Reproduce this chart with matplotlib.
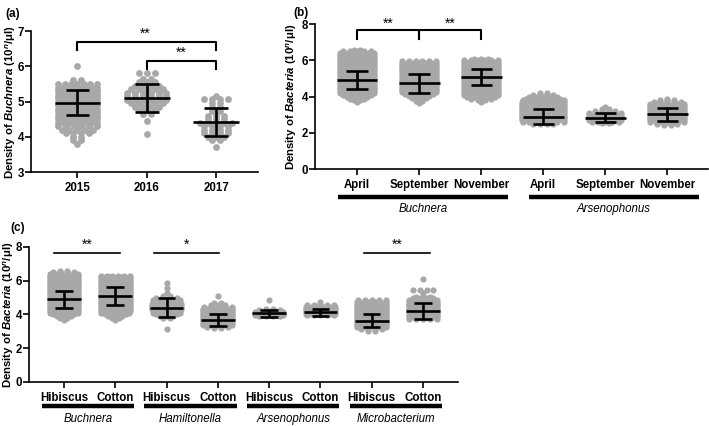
import numpy as np
import matplotlib.pyplot as plt
from matplotlib import transforms

plt.rcParams['font.family'] = ['Liberation Sans', 'DejaVu Sans']
plt.rcParams['mathtext.fontset'] = 'custom'
plt.rcParams['mathtext.rm'] = 'Liberation Sans:bold'
plt.rcParams['mathtext.it'] = 'Liberation Sans:italic:bold'
plt.rcParams['mathtext.bf'] = 'Liberation Sans:bold'

GRAY = '#a8a8a8'

# ---- panel (a): Buchnera by year, (value, number of dots) ----
a_cats = ["2015", "2016", "2017"]
a_2015 = [(6.0, 1), (5.6, 2), (5.5, 7), (5.4, 9), (5.3, 10), (5.2, 11), (5.1, 12), (5.0, 12),
          (4.9, 12), (4.8, 12), (4.7, 11), (4.6, 10), (4.5, 9), (4.4, 8), (4.3, 6), (4.2, 5),
          (4.1, 4), (4.0, 2), (3.9, 2), (3.8, 1)]
a_2016 = [(5.8, 3), (5.65, 2), (5.55, 3), (5.45, 4), (5.35, 5), (5.25, 6), (5.15, 6), (5.05, 6),
          (4.95, 5), (4.85, 4), (4.75, 3), (4.65, 2), (4.45, 1), (4.08, 1)]
a_2017 = [(5.15, 1), (5.07, 4), (4.95, 2), (4.85, 2), (4.72, 2), (4.6, 3), (4.5, 3), (4.4, 5),
          (4.3, 4), (4.2, 4), (4.1, 4), (4.0, 3), (3.9, 2), (3.7, 1)]
a_mean = [4.97, 5.10, 4.42]
a_sd = [0.36, 0.39, 0.40]

# ---- panel (b): month x bacteria ----
b_cats = ["April", "September", "November", "April", "September", "November"]
b_groups = ["Buchnera", "Arsenophonus"]
b_buch_apr = [(6.6, 2), (6.5, 5), (6.4, 7), (6.3, 8), (6.2, 8), (6.1, 8), (6.0, 9), (5.9, 9),
              (5.8, 9), (5.7, 9), (5.6, 9), (5.5, 9), (5.4, 9), (5.3, 9), (5.2, 9), (5.1, 9),
              (5.0, 9), (4.9, 9), (4.8, 9), (4.7, 9), (4.6, 9), (4.5, 8), (4.4, 8), (4.3, 7),
              (4.2, 6), (4.1, 5), (4.0, 4), (3.9, 3), (3.8, 2), (3.7, 1)]
b_buch_sep = [(5.95, 6), (5.85, 7), (5.75, 8), (5.65, 8), (5.55, 8), (5.45, 8), (5.35, 8),
              (5.25, 8), (5.15, 8), (5.05, 8), (4.95, 8), (4.85, 8), (4.75, 8), (4.65, 8),
              (4.55, 8), (4.45, 8), (4.35, 7), (4.25, 6), (4.15, 5), (4.05, 4), (3.95, 3),
              (3.85, 2), (3.75, 2), (3.65, 1)]
b_buch_nov = [(6.1, 3), (6.0, 6), (5.9, 8), (5.8, 8), (5.7, 8), (5.6, 8), (5.5, 8), (5.4, 8),
              (5.3, 8), (5.2, 8), (5.1, 8), (5.0, 8), (4.9, 8), (4.8, 8), (4.7, 8), (4.6, 8),
              (4.5, 8), (4.4, 8), (4.3, 8), (4.2, 7), (4.1, 6), (4.0, 5), (3.9, 4), (3.8, 2),
              (3.7, 1)]
b_ars_apr = [(4.2, 2), (4.1, 4), (4.0, 5), (3.9, 6), (3.8, 7), (3.7, 8), (3.6, 9), (3.5, 9),
             (3.4, 9), (3.3, 9), (3.2, 9), (3.1, 9), (3.0, 9), (2.9, 9), (2.8, 9), (2.7, 8),
             (2.6, 7), (2.5, 4)]
b_ars_sep = [(3.45, 1), (3.3, 2), (3.2, 4), (3.1, 6), (3.0, 7), (2.9, 8), (2.8, 8), (2.7, 7),
             (2.6, 5), (2.55, 2)]
b_ars_nov = [(3.9, 1), (3.8, 3), (3.7, 5), (3.6, 7), (3.5, 8), (3.4, 8), (3.3, 8), (3.2, 8),
             (3.1, 8), (3.0, 8), (2.9, 8), (2.8, 8), (2.7, 8), (2.6, 7), (2.5, 4), (2.45, 2)]
b_mean = [4.90, 4.73, 5.08, 2.90, 2.84, 3.02]
b_sd = [0.50, 0.55, 0.44, 0.43, 0.25, 0.35]

# ---- panel (c): host plant x bacteria ----
c_cats = ["Hibiscus", "Cotton"] * 4
c_groups = ["Buchnera", "Hamiltonella", "Arsenophonus", "Microbacterium"]
c_buch_hib = [(6.6, 2), (6.5, 4), (6.4, 6), (6.3, 7), (6.2, 8), (6.1, 8), (6.0, 8), (5.9, 8),
              (5.8, 8), (5.7, 8), (5.6, 8), (5.5, 8), (5.4, 8), (5.3, 8), (5.2, 8), (5.1, 8),
              (5.0, 8), (4.9, 8), (4.8, 8), (4.7, 8), (4.6, 8), (4.5, 8), (4.4, 8), (4.3, 7),
              (4.2, 6), (4.1, 5), (4.0, 4), (3.9, 3), (3.8, 2), (3.7, 1)]
c_buch_cot = [(6.3, 6), (6.2, 8), (6.1, 8), (6.0, 8), (5.9, 8), (5.8, 8), (5.7, 8), (5.6, 8),
              (5.5, 8), (5.4, 8), (5.3, 8), (5.2, 8), (5.1, 8), (5.0, 8), (4.9, 8), (4.8, 8),
              (4.7, 8), (4.6, 8), (4.5, 8), (4.4, 8), (4.3, 7), (4.2, 6), (4.1, 5), (4.0, 4),
              (3.9, 3), (3.8, 2), (3.7, 1)]
c_ham_hib = [(5.84, 1), (5.55, 1), (5.25, 1), (5.1, 2), (4.95, 4), (4.85, 5), (4.75, 5), (4.6, 6),
             (4.5, 6), (4.4, 6), (4.3, 6), (4.2, 5), (4.1, 5), (4.0, 4), (3.9, 3), (3.8, 2),
             (3.13, 1)]
c_ham_cot = [(5.11, 1), (4.7, 2), (4.56, 3), (4.45, 5), (4.35, 7), (4.25, 8), (4.15, 8), (4.05, 8),
             (3.95, 8), (3.85, 8), (3.75, 8), (3.65, 8), (3.55, 8), (3.45, 7), (3.35, 6),
             (3.25, 4), (3.18, 2)]
c_ars_hib = [(4.85, 1), (4.35, 2), (4.25, 4), (4.15, 6), (4.05, 8), (3.95, 7), (3.88, 4)]
c_ars_cot = [(4.75, 1), (4.55, 5), (4.45, 6), (4.35, 7), (4.25, 8), (4.15, 8), (4.05, 7), (3.95, 5)]
c_mic_hib = [(4.86, 5), (4.75, 6), (4.65, 7), (4.55, 8), (4.45, 8), (4.35, 8), (4.25, 8), (4.15, 8),
             (4.05, 8), (3.95, 8), (3.85, 8), (3.75, 8), (3.65, 8), (3.55, 8), (3.45, 8), (3.35, 7),
             (3.25, 6), (3.15, 4), (3.05, 2)]
c_mic_cot = [(6.08, 1), (5.45, 4), (5.3, 1), (5.05, 3), (4.95, 4), (4.85, 5), (4.75, 6), (4.65, 7),
             (4.55, 8), (4.45, 8), (4.35, 8), (4.25, 8), (4.15, 8), (4.05, 8), (3.95, 8), (3.85, 7),
             (3.75, 5)]
c_mean = [4.91, 5.10, 4.40, 3.68, 4.06, 4.12, 3.63, 4.19]
c_sd = [0.51, 0.54, 0.56, 0.35, 0.21, 0.19, 0.40, 0.47]


def swarm(ax, x0, rows, step, halfw, s):
    xs, ys = [], []
    for v, n in rows:
        st = step if n < 2 else min(step, 2 * halfw / (n - 1))
        off = (np.arange(n) - (n - 1) / 2) * st
        xs += list(x0 + off)
        ys += [v] * n
    ax.scatter(xs, ys, s=s, color=GRAY, linewidths=0, zorder=2, clip_on=False)


def meansd(ax, x0, m, sd, mw=0.66, cw=0.34):
    kw = dict(color='black', lw=1.9, zorder=3, solid_capstyle='butt')
    ax.plot([x0 - mw / 2, x0 + mw / 2], [m, m], **kw)
    ax.plot([x0, x0], [m - sd, m + sd], **kw)
    ax.plot([x0 - cw / 2, x0 + cw / 2], [m + sd, m + sd], **kw)
    ax.plot([x0 - cw / 2, x0 + cw / 2], [m - sd, m - sd], **kw)


def style(ax, ylim, yticks, xlim, cats, ylabel, labx):
    for sp in ['top', 'right']:
        ax.spines[sp].set_visible(False)
    for sp in ['left', 'bottom']:
        ax.spines[sp].set_linewidth(1.2)
    ax.set_ylim(*ylim)
    ax.set_yticks(yticks)
    ax.set_xlim(*xlim)
    ax.set_xticks(range(len(cats)))
    ax.set_xticklabels(cats, fontweight='bold', fontsize=8.3)
    ax.tick_params(axis='y', labelsize=8.3, width=1.2, length=4, pad=1)
    ax.tick_params(axis='x', width=1.2, length=4, pad=3)
    for t in ax.get_yticklabels():
        t.set_fontweight('bold')
    ax.set_ylabel(ylabel, fontsize=8.2, fontweight='bold', va='center')
    ax.yaxis.set_label_coords(labx, 0.5)


def group_bars(ax, groups, spans, ybar, ylab):
    tr = transforms.blended_transform_factory(ax.transData, ax.transAxes)
    for g, (x1, x2) in zip(groups, spans):
        ax.plot([x1, x2], [ybar, ybar], color='black', lw=3.2, transform=tr,
                clip_on=False, solid_capstyle='butt')
        ax.text((x1 + x2) / 2, ylab, g, style='italic', fontsize=8.3, ha='center',
                va='center', transform=tr)


fig = plt.figure(figsize=(7.09, 4.26), dpi=100)

# panel (a)
ax1 = fig.add_axes([0.0437, 0.596, 0.320, 0.331])
for i, rows in enumerate([a_2015, a_2016, a_2017]):
    swarm(ax1, i, rows, 0.115, 0.28, 24)
    meansd(ax1, i, a_mean[i], a_sd[i])
style(ax1, (3, 7), [3, 4, 5, 6, 7], (-0.67, 2.6), a_cats,
      r"Density of $\mathit{Buchnera}$ (10$^{n}$/μl)", -0.088)
bk = dict(color='black', lw=1.5, clip_on=False)
ax1.plot([0, 0, 2, 2], [6.45, 6.69, 6.69, 6.45], **bk)
ax1.plot([1, 1, 2, 2], [5.92, 6.15, 6.15, 5.92], **bk)
ax1.text(0.97, 6.72, "**", ha='center', va='bottom', fontsize=10)
ax1.text(1.5, 6.18, "**", ha='center', va='bottom', fontsize=10)

# panel (b)
ax2 = fig.add_axes([0.444, 0.603, 0.554, 0.340])
b_rows = [b_buch_apr, b_buch_sep, b_buch_nov, b_ars_apr, b_ars_sep, b_ars_nov]
b_halfw = [0.28, 0.28, 0.28, 0.34, 0.26, 0.27]
for i, rows in enumerate(b_rows):
    swarm(ax2, i, rows, 0.11, b_halfw[i], 20)
    meansd(ax2, i, b_mean[i], b_sd[i])
style(ax2, (0, 8), [0, 2, 4, 6, 8], (-0.68, 5.65), b_cats,
      r"Density of $\mathit{Bacteria}$ (10$^{n}$/μl)", -0.058)
ax2.plot([0, 0, 1, 1], [7.2, 7.67, 7.67, 7.2], **bk)
ax2.plot([1, 1, 2, 2], [7.2, 7.67, 7.67, 7.2], **bk)
ax2.text(0.5, 7.62, "**", ha='center', va='bottom', fontsize=10)
ax2.text(1.5, 7.62, "**", ha='center', va='bottom', fontsize=10)
group_bars(ax2, b_groups, [(-0.3, 2.44), (2.77, 5.51)], -0.193, -0.276)

# panel (c)
ax3 = fig.add_axes([0.0409, 0.1033, 0.605, 0.317])
c_rows = [c_buch_hib, c_buch_cot, c_ham_hib, c_ham_cot, c_ars_hib, c_ars_cot, c_mic_hib, c_mic_cot]
for i, rows in enumerate(c_rows):
    swarm(ax3, i, rows, 0.135, 0.28, 20)
    meansd(ax3, i, c_mean[i], c_sd[i])
style(ax3, (0, 8), [0, 2, 4, 6, 8], (-0.68, 7.68), c_cats,
      r"Density of $\mathit{Bacteria}$ (10$^{n}$/μl)", -0.046)
for x1, x2, lab in [(-0.19, 1.09, "**"), (1.75, 3.03, "*"), (5.84, 7.14, "**")]:
    ax3.plot([x1, x2], [7.67, 7.67], color='black', lw=1.2, clip_on=False)
    ax3.text((x1 + x2) / 2, 7.72, lab, ha='center', va='bottom', fontsize=10)
group_bars(ax3, c_groups, [(2 * k - 0.43, 2 * k + 1.37) for k in range(4)], -0.178, -0.274)

fig.text(5 / 709, 1 - 14 / 426, "(a)", fontsize=8.5, fontweight='bold', va='center')
fig.text(293 / 709, 1 - 13 / 426, "(b)", fontsize=8.5, fontweight='bold', va='center')
fig.text(10 / 709, 1 - 228 / 426, "(c)", fontsize=8.5, fontweight='bold', va='center')

fig.savefig("out.png", dpi=100)
